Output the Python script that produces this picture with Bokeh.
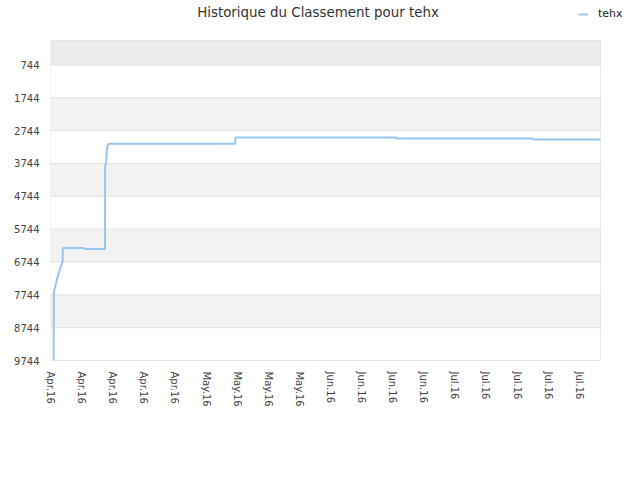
import pandas as pd
from bokeh.plotting import figure
from bokeh.models import (Range1d, FixedTicker, DatetimeTickFormatter, BoxAnnotation,
                          Legend, LegendItem, Label)
from bokeh.embed import file_html
from bokeh.resources import INLINE

# ---- data ----
dates = ["2016-04-01 17:00", "2016-04-01 18:00", "2016-04-02 15:00", "2016-04-03 18:00",
         "2016-04-03 18:30", "2016-04-08 14:00", "2016-04-08 15:00", "2016-04-13 06:30",
         "2016-04-13 07:00", "2016-04-13 12:00", "2016-04-13 17:00", "2016-04-14 00:00",
         "2016-05-12 14:00", "2016-05-12 15:00", "2016-06-17 19:00", "2016-06-17 20:00",
         "2016-07-18 14:00", "2016-07-18 15:00", "2016-08-02 19:00"]
ranks = [9744, 7667, 7180, 6703,
         6317, 6317, 6348, 6348,
         3815, 3763, 3307, 3146,
         3146, 2954, 2954, 2985,
         2985, 3015, 3015]

y_ticks = [744, 1744, 2744, 3744, 4744, 5744, 6744, 7744, 8744, 9744]
x_tick_dates = ["2016-04-01", "2016-04-08", "2016-04-15", "2016-04-22", "2016-04-29",
                "2016-05-06", "2016-05-13", "2016-05-20", "2016-05-27",
                "2016-06-03", "2016-06-10", "2016-06-17", "2016-06-24",
                "2016-07-01", "2016-07-08", "2016-07-15", "2016-07-22", "2016-07-29"]
x_start = "2016-04-01 00:00"
x_end = "2016-08-02 19:00"
y_min, y_max = 0, 9744
series_name = "tehx"
title_text = "Historique du Classement pour tehx"

FONT = "DejaVu Sans"

x = pd.to_datetime(dates)
xs = pd.Timestamp(x_start)
xe = pd.Timestamp(x_end)

# layout (pixels): plot area 550 x 320, with 40 px of free space above and to the right
W, H = 640, 480
LEFT, BOTTOM = 50, 120
PLOT_W, PLOT_H = 550, 320
extra_x = (xe - xs) * ((W - LEFT - PLOT_W) / PLOT_W)
extra_y = (y_max - y_min) * ((H - BOTTOM - PLOT_H) / PLOT_H)

p = figure(width=W, height=H, output_backend="svg", toolbar_location=None,
           x_axis_type="datetime",
           x_range=Range1d(xs, xe + extra_x), y_range=Range1d(y_max, y_min - extra_y),
           min_border_left=LEFT, min_border_right=0, min_border_top=0, min_border_bottom=BOTTOM)
p.outline_line_color = None
p.background_fill_color = "white"
p.border_fill_color = "white"

# bands
p.add_layout(BoxAnnotation(left=xs, right=xe, top=y_min, bottom=y_ticks[0],
                           fill_color="#ececec", fill_alpha=1, line_color=None, level="underlay"))
for i in range(1, len(y_ticks) - 1, 2):
    p.add_layout(BoxAnnotation(left=xs, right=xe, top=y_ticks[i], bottom=y_ticks[i + 1],
                               fill_color="#f2f2f2", fill_alpha=1, line_color=None,
                               level="underlay"))

# grid lines limited to the plot area
p.segment(x0=[xs] * len(y_ticks), x1=[xe] * len(y_ticks), y0=y_ticks, y1=y_ticks,
          line_color="#e0e0e0", line_width=1)

r = p.line(x, ranks, line_color="#99c5f1", line_width=2)

# plot-area outline
p.add_layout(BoxAnnotation(left=xs, right=xe, top=y_min, bottom=y_max, fill_alpha=0,
                           line_color="#bdbdbd", line_width=1, level="overlay"))

p.xgrid.grid_line_color = None
p.ygrid.grid_line_color = None
p.yaxis.ticker = FixedTicker(ticks=y_ticks)
p.xaxis.ticker = FixedTicker(ticks=[pd.Timestamp(d).value / 1e6 for d in x_tick_dates])
fmt = "%b.%y"
p.xaxis.formatter = DatetimeTickFormatter(milliseconds=fmt, seconds=fmt, minsec=fmt, minutes=fmt,
                                          hourmin=fmt, hours=fmt, days=fmt, months=fmt, years=fmt)

for ax in (p.xaxis[0], p.yaxis[0]):
    ax.axis_line_color = None
    ax.major_tick_line_color = None
    ax.minor_tick_line_color = None
    ax.major_tick_out = 0
    ax.major_tick_in = 0
    ax.minor_tick_out = 0
    ax.major_label_text_font = FONT
    ax.major_label_text_color = "#444444"
    ax.major_label_text_font_size = "10px"

p.yaxis.major_label_standoff = 11
p.xaxis.major_label_standoff = 11
p.xaxis.major_label_orientation = "vertical"

# title (frame-relative screen units)
p.add_layout(Label(x=267.5, y=348, x_units="screen", y_units="screen", text=title_text,
                   text_font=FONT, text_font_size="13.4px", text_color="#333333",
                   text_align="center", text_baseline="middle"))

legend = Legend(items=[LegendItem(label=series_name, renderers=[r])],
                location=(528, 339.5), orientation="horizontal",
                padding=0, margin=0, spacing=0,
                border_line_color=None, background_fill_alpha=0,
                glyph_width=10, glyph_height=14, label_height=14, label_standoff=10,
                label_text_font=FONT, label_text_font_size="11px", label_text_color="#222222")
p.add_layout(legend)

open("out.html", "w").write(file_html(p, INLINE))
